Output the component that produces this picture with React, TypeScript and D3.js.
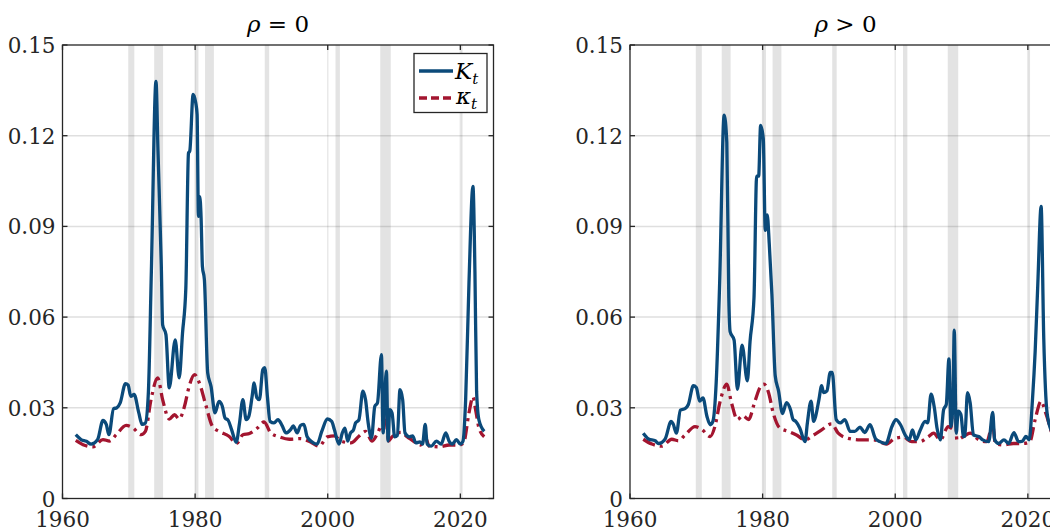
import * as React from 'react';
import * as d3 from 'd3';

// recession bands (NBER), years
const recessions: [number, number][] = [
  [1969.92, 1970.83],
  [1973.83, 1975.17],
  [1980.0, 1980.5],
  [1981.5, 1982.83],
  [1990.5, 1991.17],
  [2001.17, 2001.83],
  [2007.92, 2009.5],
  [2020.08, 2020.33],
];

const yTicks = [0, 0.03, 0.06, 0.09, 0.12, 0.15];
const yTickLabels = ['0', '0.03', '0.06', '0.09', '0.12', '0.15'];
const xTicks = [1960, 1980, 2000, 2020];
const xTickLabels = ['1960', '1980', '2000', '2020'];

// rho = 0 : K_t
const bigKLeft: [number, number][] = [
  [1962.0, 0.0211], [1962.8, 0.0195], [1963.6, 0.0189], [1964.3, 0.018], [1965.3, 0.0195],
  [1966.1, 0.0258], [1966.6, 0.0245], [1967.0, 0.0211], [1967.7, 0.0297], [1968.2, 0.03],
  [1968.7, 0.0316], [1969.5, 0.038], [1969.9, 0.0375], [1970.3, 0.0338], [1970.8, 0.0344],
  [1971.5, 0.0284], [1972.0, 0.0245], [1972.5, 0.025], [1972.95, 0.035], [1973.4, 0.075],
  [1974.1, 0.138], [1974.4, 0.115], [1974.9, 0.077], [1975.1, 0.0575], [1975.6, 0.0542],
  [1976.1, 0.0366], [1977.0, 0.0525], [1977.6, 0.0399], [1978.1, 0.0547], [1978.6, 0.0696],
  [1979.0, 0.1142], [1979.2, 0.115], [1979.7, 0.1337], [1980.1, 0.1308], [1980.3, 0.127],
  [1980.5, 0.0933], [1980.7, 0.0998], [1980.9, 0.093], [1981.1, 0.0768], [1981.4, 0.0724],
  [1981.9, 0.0415], [1982.4, 0.0371], [1983.0, 0.0283], [1983.6, 0.0321], [1984.1, 0.0305],
  [1984.5, 0.0267], [1985.0, 0.0258], [1985.5, 0.0228], [1986.2, 0.0186], [1986.7, 0.025],
  [1987.2, 0.0327], [1987.7, 0.0261], [1988.1, 0.0272], [1988.6, 0.0338], [1988.9, 0.0382],
  [1989.3, 0.0334], [1989.7, 0.0327], [1990.2, 0.0426], [1990.5, 0.0433], [1990.9, 0.0338],
  [1991.3, 0.0255], [1991.9, 0.025], [1992.5, 0.0261], [1993.1, 0.0242], [1993.7, 0.0217],
  [1994.4, 0.0228], [1994.8, 0.024], [1995.4, 0.0217], [1995.9, 0.0242], [1996.4, 0.0245],
  [1996.9, 0.0204], [1997.7, 0.0186], [1998.4, 0.018], [1999.1, 0.0222], [1999.95, 0.0263],
  [2000.6, 0.0255], [2001.0, 0.0228], [2001.7, 0.018], [2002.2, 0.0217], [2002.6, 0.0233],
  [2003.0, 0.019], [2003.4, 0.0215], [2003.9, 0.0228], [2004.2, 0.025], [2004.7, 0.026],
  [2005.3, 0.0355], [2005.7, 0.0327], [2006.1, 0.025], [2006.6, 0.02], [2007.1, 0.0305],
  [2007.5, 0.0316], [2008.1, 0.0476], [2008.35, 0.0217], [2008.6, 0.0338], [2008.85, 0.0421],
  [2009.1, 0.019], [2009.35, 0.0294], [2009.7, 0.0283], [2010.1, 0.0204], [2010.5, 0.0209],
  [2010.9, 0.036], [2011.3, 0.0327], [2011.65, 0.0217], [2012.3, 0.0204], [2012.8, 0.0207],
  [2013.3, 0.0184], [2013.9, 0.0187], [2014.3, 0.018], [2014.7, 0.0245], [2015.0, 0.018],
  [2015.6, 0.0173], [2016.4, 0.019], [2017.1, 0.018], [2017.8, 0.0217], [2018.3, 0.019],
  [2018.8, 0.018], [2019.4, 0.0195], [2020.0, 0.018], [2020.4, 0.019], [2020.8, 0.0327],
  [2021.3, 0.0712], [2021.9, 0.1032], [2022.2, 0.075], [2022.45, 0.0355], [2022.8, 0.026],
  [2023.6, 0.0222],
];

// rho = 0 : kappa_t
const smallKLeft: [number, number][] = [
  [1962.0, 0.0192], [1963.1, 0.0178], [1964.6, 0.0171], [1966.1, 0.0195], [1967.1, 0.019],
  [1968.1, 0.0211], [1969.6, 0.0242], [1970.6, 0.0234], [1971.85, 0.0211], [1972.5, 0.0222],
  [1973.35, 0.0327], [1974.35, 0.0399], [1975.1, 0.0327], [1976.1, 0.0263], [1976.9, 0.0277],
  [1977.6, 0.0263], [1978.4, 0.0305], [1979.1, 0.0371], [1979.9, 0.041], [1980.65, 0.0382],
  [1981.6, 0.031], [1982.6, 0.0239], [1983.6, 0.0222], [1985.1, 0.0206], [1986.25, 0.0182],
  [1987.2, 0.0211], [1988.2, 0.0215], [1989.4, 0.0233], [1990.4, 0.0253], [1991.4, 0.0217],
  [1992.7, 0.0204], [1994.2, 0.0196], [1995.9, 0.0198], [1997.4, 0.0187], [1998.7, 0.0173],
  [1999.95, 0.0204], [2001.0, 0.0207], [2002.0, 0.019], [2003.5, 0.0184], [2004.7, 0.0206],
  [2005.7, 0.0222], [2006.7, 0.019], [2007.55, 0.0217], [2008.1, 0.024], [2008.4, 0.0228],
  [2008.85, 0.03], [2009.15, 0.019], [2009.7, 0.0204], [2011.0, 0.0219], [2012.0, 0.0204],
  [2013.3, 0.0184], [2014.0, 0.0177], [2014.7, 0.0204], [2015.3, 0.0173], [2016.9, 0.0171],
  [2018.3, 0.0177], [2019.85, 0.0177], [2020.5, 0.0184], [2021.3, 0.0283], [2021.9, 0.0336],
  [2022.3, 0.0294], [2022.8, 0.0234], [2023.6, 0.0204],
];

// rho > 0 : K_t
const bigKRight: [number, number][] = [
  [1962.0, 0.0216], [1962.8, 0.0197], [1963.8, 0.0191], [1964.3, 0.0182], [1965.3, 0.0197],
  [1966.2, 0.0255], [1966.5, 0.0247], [1967.0, 0.0216], [1967.6, 0.0292], [1968.3, 0.0297],
  [1968.8, 0.0311], [1969.55, 0.0373], [1970.0, 0.0367], [1970.5, 0.0322], [1971.0, 0.0333],
  [1971.6, 0.0272], [1972.1, 0.0244], [1972.5, 0.0255], [1973.0, 0.0384], [1973.5, 0.0697],
  [1974.2, 0.1268], [1974.6, 0.1178], [1974.9, 0.0664], [1975.1, 0.0552], [1975.7, 0.0524],
  [1976.2, 0.0361], [1976.9, 0.0507], [1977.7, 0.0389], [1978.1, 0.0518], [1978.7, 0.0664],
  [1979.1, 0.1066], [1979.4, 0.1066], [1979.7, 0.1234], [1980.1, 0.119], [1980.4, 0.0887],
  [1980.7, 0.0938], [1981.0, 0.0843], [1981.4, 0.0675], [1981.9, 0.0406], [1982.4, 0.0356],
  [1983.0, 0.0281], [1983.6, 0.0317], [1984.2, 0.0294], [1984.6, 0.0261], [1985.0, 0.0255],
  [1985.6, 0.0233], [1986.4, 0.0188], [1986.75, 0.025], [1987.3, 0.0322], [1987.7, 0.0255],
  [1988.0, 0.0272], [1988.5, 0.0328], [1988.9, 0.0373], [1989.2, 0.035], [1989.7, 0.0356],
  [1990.2, 0.0417], [1990.5, 0.0417], [1991.1, 0.0261], [1991.7, 0.025], [1992.4, 0.0261],
  [1993.2, 0.0222], [1993.9, 0.0222], [1994.7, 0.0236], [1995.4, 0.0218], [1996.2, 0.0244],
  [1997.0, 0.0199], [1997.7, 0.0188], [1998.6, 0.0182], [1999.5, 0.0238], [2000.1, 0.0261],
  [2000.8, 0.0244], [2001.5, 0.021], [2002.1, 0.0194], [2002.6, 0.0227], [2003.1, 0.0194],
  [2003.75, 0.0225], [2004.5, 0.0255], [2004.9, 0.025], [2005.4, 0.0345], [2005.9, 0.03],
  [2006.3, 0.0233], [2006.8, 0.0194], [2007.3, 0.0294], [2007.7, 0.0311], [2008.1, 0.0462],
  [2008.4, 0.0238], [2008.7, 0.0317], [2008.9, 0.0557], [2009.2, 0.0216], [2009.5, 0.0289],
  [2009.9, 0.0278], [2010.3, 0.0205], [2010.5, 0.0207], [2010.9, 0.035], [2011.3, 0.0317],
  [2011.8, 0.021], [2012.6, 0.0205], [2013.2, 0.0194], [2014.1, 0.0188], [2014.7, 0.0285],
  [2015.0, 0.0194], [2015.6, 0.0182], [2016.4, 0.0194], [2017.1, 0.0182], [2017.9, 0.0218],
  [2018.6, 0.0188], [2019.2, 0.019], [2019.7, 0.0205], [2020.2, 0.0194], [2020.7, 0.0328],
  [2021.1, 0.0485], [2021.5, 0.0708], [2022.0, 0.0966], [2022.4, 0.0529], [2022.9, 0.0283],
  [2023.6, 0.0222],
];

// rho > 0 : kappa_t
const smallKRight: [number, number][] = [
  [1962.0, 0.0196], [1963.3, 0.018], [1964.8, 0.0173], [1966.3, 0.0196], [1967.3, 0.0191],
  [1968.3, 0.021], [1969.8, 0.0238], [1970.8, 0.0229], [1972.1, 0.0205], [1972.8, 0.0238],
  [1973.6, 0.0322], [1974.6, 0.0378], [1975.3, 0.0317], [1976.2, 0.0261], [1977.0, 0.0274],
  [1977.9, 0.0261], [1978.7, 0.0311], [1979.6, 0.0367], [1980.2, 0.0378], [1980.9, 0.035],
  [1981.6, 0.0283], [1982.6, 0.0233], [1983.9, 0.0222], [1985.1, 0.021], [1986.4, 0.0194],
  [1987.7, 0.021], [1988.9, 0.0227], [1990.4, 0.0247], [1991.4, 0.0216], [1992.9, 0.0199],
  [1994.7, 0.0194], [1996.7, 0.0194], [1998.7, 0.018], [1999.95, 0.0199], [2001.2, 0.0203],
  [2002.5, 0.0188], [2003.75, 0.0188], [2005.0, 0.0205], [2005.8, 0.0216], [2006.8, 0.0194],
  [2008.0, 0.0238], [2008.4, 0.0233], [2008.9, 0.0406], [2009.3, 0.0194], [2010.3, 0.0205],
  [2011.3, 0.0216], [2012.6, 0.0194], [2013.8, 0.0188], [2014.7, 0.0244], [2015.1, 0.0182],
  [2016.3, 0.0177], [2017.8, 0.0182], [2019.3, 0.0182], [2020.3, 0.0188], [2021.1, 0.0261],
  [2022.0, 0.0322], [2022.6, 0.0289], [2023.6, 0.0216],
];

const BLUE = '#0b4a7a';
const RED = '#a3152f';
const INK = '#262626';
const FONT = "'DejaVu Serif', serif";
const txt = { fontFamily: FONT };

const top = 45;
const bottom = 498.5;

type PanelProps = {
  left: number;
  right: number;
  title: React.ReactNode;
  bigK: [number, number][];
  smallK: [number, number][];
  legend?: boolean;
  id: string;
};

const Panel: React.FC<PanelProps> = ({ left, right, title, bigK, smallK, legend, id }) => {
  const x = d3.scaleLinear().domain([1960, 2025]).range([left, right]);
  const y = d3.scaleLinear().domain([0, 0.15]).range([bottom, top]);

  const line = d3
    .line<[number, number]>()
    .x((d) => x(d[0]))
    .y((d) => y(d[1]))
    .curve(d3.curveMonotoneX);

  return (
    <g>
      <defs>
        <clipPath id={id}>
          <rect x={left} y={top} width={right - left} height={bottom - top} />
        </clipPath>
      </defs>
      {recessions.map(([a, b], i) => (
        <rect key={i} x={x(a)} y={top} width={x(b) - x(a)} height={bottom - top} fill="#e3e3e3" />
      ))}
      {yTicks.slice(1, -1).map((t) => (
        <line key={t} x1={left} x2={right} y1={y(t)} y2={y(t)} stroke="#262626" strokeOpacity={0.15} strokeWidth={1.5} />
      ))}
      {xTicks.slice(1).map((t) => (
        <line key={t} x1={x(t)} x2={x(t)} y1={top} y2={bottom} stroke="#262626" strokeOpacity={0.1} strokeWidth={1.5} />
      ))}
      <g clipPath={`url(#${id})`}>
        <path d={line(smallK) || ''} fill="none" stroke={RED} strokeWidth={3.3} strokeDasharray="13,5,3,5" />
        <path d={line(bigK) || ''} fill="none" stroke={BLUE} strokeWidth={3.3} strokeLinejoin="round" />
      </g>
      <rect x={left} y={top} width={right - left} height={bottom - top} fill="none" stroke={INK} strokeWidth={1.3} />
      {yTicks.map((t, i) => (
        <g key={t}>
          <line x1={left} x2={left + 5} y1={y(t)} y2={y(t)} stroke={INK} strokeWidth={1.3} />
          <line x1={right} x2={right - 5} y1={y(t)} y2={y(t)} stroke={INK} strokeWidth={1.3} />
          <text x={left - 7} y={y(t) + 8} textAnchor="end" style={txt} fontSize={21.5} fill={INK}>
            {yTickLabels[i]}
          </text>
        </g>
      ))}
      {xTicks.map((t, i) => (
        <g key={t}>
          <line x1={x(t)} x2={x(t)} y1={bottom} y2={bottom - 5} stroke={INK} strokeWidth={1.3} />
          <line x1={x(t)} x2={x(t)} y1={top} y2={top + 5} stroke={INK} strokeWidth={1.3} />
          <text x={x(t)} y={527} textAnchor="middle" style={txt} fontSize={21.5} fill={INK}>
            {xTickLabels[i]}
          </text>
        </g>
      ))}
      <text x={(left + right) / 2} y={32} textAnchor="middle" style={txt} fontSize={23} fill="#000">
        {title}
      </text>
      {legend && (
        <g>
          <rect x={414} y={53.5} width={73} height={59} fill="#fff" stroke={INK} strokeWidth={1.3} />
          <line x1={419} x2={453} y1={71} y2={71} stroke={BLUE} strokeWidth={3.3} />
          <line x1={419} x2={453} y1={98} y2={98} stroke={RED} strokeWidth={3.3} strokeDasharray="8,4" />
          <text x={455} y={79} style={txt} fontSize={23} fontStyle="italic" fill="#000">
            K<tspan fontSize={15} dy={5}>t</tspan>
          </text>
          <text x={456} y={104} style={txt} fontSize={23} fontStyle="italic" fill="#000">
            κ<tspan fontSize={15} dy={5}>t</tspan>
          </text>
        </g>
      )}
    </g>
  );
};

export default function App() {
  return (
    <svg
      width={1050}
      height={531}
      style={{ position: 'absolute', left: 0, top: 0, background: '#fff' }}
    >
      <rect width={1050} height={531} fill="#fff" />
      <Panel
        id="clipL"
        left={62.5}
        right={493.5}
        title={<><tspan fontStyle="italic">ρ</tspan> = 0</>}
        bigK={bigKLeft}
        smallK={smallKLeft}
        legend
      />
      <Panel
        id="clipR"
        left={630}
        right={1061}
        title={<><tspan fontStyle="italic">ρ</tspan> &gt; 0</>}
        bigK={bigKRight}
        smallK={smallKRight}
      />
    </svg>
  );
}
